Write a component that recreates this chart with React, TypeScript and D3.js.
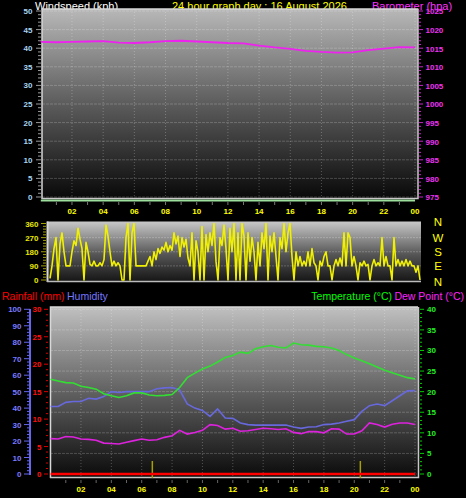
import * as d3 from 'd3'

// x labels shared by all three panels
const hourLabels = ['02', '04', '06', '08', '10', '12', '14', '16', '18', '20', '22', '00']

// top panel
const windSpeedTicks = [0, 5, 10, 15, 20, 25, 30, 35, 40, 45, 50]
const baroTicks = [975, 980, 985, 990, 995, 1000, 1005, 1010, 1015, 1020, 1025]
const baroHours = [0, 1, 2, 3, 4, 5, 6, 7, 8, 9, 10, 11, 12, 13, 14, 15, 16, 17, 18, 19, 20, 21, 22, 23, 24]
const baroValues = [
  1016.7, 1016.6, 1016.7, 1016.8, 1016.9, 1016.5, 1016.4, 1016.6, 1016.9, 1017.0, 1016.8, 1016.6, 1016.4,
  1016.3, 1015.7, 1015.2, 1014.8, 1014.3, 1014.0, 1013.8, 1013.9, 1014.5, 1014.9, 1015.3, 1015.2,
]
const windHours = [0, 24]
const windSpeedValues = [0, 0]

// wind direction panel
const dirTicks = [0, 90, 180, 270, 360]
const compassLabels = ['N', 'W', 'S', 'E', 'N']
const windDirValues = [
  10, 90, 200, 270, 0, 230, 300, 180, 90, 90,
  90, 180, 250, 220, 330, 260, 200, 0, 240, 180,
  100, 90, 120, 90, 90, 110, 90, 130, 350, 280,
  180, 90, 120, 90, 110, 90, 0, 0, 270, 360,
  0, 300, 360, 90, 90, 90, 90, 90, 90, 120,
  150, 90, 180, 130, 200, 170, 210, 190, 240, 180,
  220, 190, 300, 230, 280, 150, 270, 210, 260, 140,
  90, 300, 0, 250, 180, 0, 340, 0, 290, 180,
  300, 220, 360, 120, 0, 270, 220, 350, 200, 0,
  330, 180, 360, 0, 300, 0, 360, 280, 0, 300,
  120, 270, 180, 0, 240, 90, 300, 200, 360, 0,
  280, 180, 300, 150, 0, 270, 200, 360, 180, 300,
  360, 150, 0, 180, 90, 150, 90, 120, 90, 180,
  90, 200, 110, 90, 0, 120, 90, 150, 180, 90,
  90, 0, 90, 130, 90, 140, 90, 300, 90, 300,
  270, 90, 150, 90, 0, 110, 90, 120, 90, 100,
  0, 90, 130, 90, 110, 90, 270, 90, 150, 90,
  90, 0, 270, 90, 130, 90, 120, 90, 130, 90,
  120, 90, 90, 50, 90, 0,
]

// bottom panel (half-hourly readings)
const humTicks = [0, 10, 20, 30, 40, 50, 60, 70, 80, 90, 100]
const rainTicks = [0, 5, 10, 15, 20, 25, 30]
const tempTicks = [0, 5, 10, 15, 20, 25, 30, 35, 40]
const tempValues = [
  23.0, 22.6, 22.2, 22.1, 21.3, 21.0, 20.6, 19.5, 19.0, 18.6, 19.0, 19.7, 19.7, 19.2, 19.0, 19.1, 19.3,
  21.0, 23.4, 24.5, 25.5, 26.2, 27.2, 28.3, 28.8, 29.6, 29.3, 30.4, 30.9, 31.2, 30.8, 30.6, 31.8,
  31.4, 31.3, 31.0, 30.9, 30.6, 30.0, 29.0, 28.2, 27.5, 26.8, 26.0, 25.2, 24.6, 24.0, 23.4, 23.1,
]
const humidityValues = [
  41, 41, 43.5, 44, 44, 46, 45.5, 47, 50, 49.5, 50, 50, 50, 50, 51.8, 52.3, 52.5,
  51, 42.5, 40, 38.6, 35, 39.5, 34, 33.8, 31, 30, 29.7, 29.7, 29.7, 29.7, 29.7, 28.5,
  27.7, 28.5, 28.7, 30, 30.3, 31, 32, 33, 38, 41.5, 42.5, 41.5, 44.5, 47.5, 50.5, 50.6,
]
const dewPointValues = [
  8.6, 8.5, 9.1, 9.0, 8.5, 8.4, 8.2, 7.5, 7.4, 7.3, 7.7, 8.1, 8.5, 8.2, 8.3, 8.9, 9.3,
  10.6, 9.7, 10.1, 10.6, 12.0, 11.8, 10.9, 11.1, 10.4, 10.5, 10.8, 11.1, 11.0, 10.8, 11.0, 10.1,
  9.8, 10.3, 10.3, 10.0, 11.0, 10.9, 9.7, 9.7, 10.5, 12.4, 12.0, 11.4, 12.1, 12.4, 12.4, 12.0,
]
const rainHours = [0, 24]
const rainValues = [0, 0]
const rainMarkHours = [6.7, 20.4]

const FONT = '"Liberation Sans", Arial, sans-serif'
const NUM = 8
const halfHours = tempValues.map((_, i) => i / 2)
const dirHours = windDirValues.map((_, i) => (i * 24) / (windDirValues.length - 1))
const hourLabelValues = hourLabels.map((_, i) => (i + 1) * 2)
const everyHour = d3.range(1, 24)

type Pt = [number, number]

const App = () => {
  // ---------- top ----------
  const xTop = d3.scaleLinear().domain([0, 24]).range([40.8, 415])
  const yWind = d3.scaleLinear().domain([0, 50]).range([197, 11])
  const yBaro = d3.scaleLinear().domain([975, 1025]).range([197, 11])
  const baroLine = d3.line<Pt>().x(d => xTop(d[0])).y(d => yBaro(d[1]))
  const windLine = d3.line<Pt>().x(d => xTop(d[0])).y(d => yWind(d[1]) + 3.5)

  // ---------- wind dir ----------
  const xDir = d3.scaleLinear().domain([0, 24]).range([50, 420])
  const yDir = d3.scaleLinear().domain([0, 360]).range([280, 223.5])
  const dirLine = d3.line<Pt>().x(d => xDir(d[0])).y(d => yDir(d[1]))

  // ---------- bottom ----------
  const xBot = d3.scaleLinear().domain([0, 24]).range([50.6, 415])
  const yHum = d3.scaleLinear().domain([0, 100]).range([474, 309.3])
  const yRain = d3.scaleLinear().domain([0, 30]).range([474, 309.3])
  const yTemp = d3.scaleLinear().domain([0, 40]).range([474, 309.3])
  const tempLine = d3.line<Pt>().x(d => xBot(d[0])).y(d => yTemp(d[1]))
  const humLine = d3.line<Pt>().x(d => xBot(d[0])).y(d => yHum(d[1]))
  const rainLine = d3.line<Pt>().x(d => xBot(d[0])).y(d => yRain(d[1]))

  const zip = (xs: number[], ys: number[]): Pt[] => xs.map((x, i) => [x, ys[i]])

  return (
    <svg width={466} height={498} style={{ position: 'absolute', left: 0, top: 0, background: '#000' }}
      fontFamily={FONT}>
      <defs>
        <linearGradient id="gTop" x1="0" y1="0" x2="0" y2="1">
          <stop offset="0" stopColor="#b8b8b8" />
          <stop offset="0.5" stopColor="#5c5c5c" />
          <stop offset="1" stopColor="#080808" />
        </linearGradient>
        <linearGradient id="gDir" x1="0" y1="0" x2="0" y2="1">
          <stop offset="0" stopColor="#c8c8c8" />
          <stop offset="0.55" stopColor="#555" />
          <stop offset="1" stopColor="#141414" />
        </linearGradient>
        <linearGradient id="gBot" x1="0" y1="0" x2="0" y2="1">
          <stop offset="0" stopColor="#c0c0c0" />
          <stop offset="0.5" stopColor="#606060" />
          <stop offset="1" stopColor="#0a0a0a" />
        </linearGradient>
      </defs>

      {/* ===== top panel ===== */}
      <text x={35} y={10} fontSize={11} fill="#fff">Windspeed (kph)</text>
      <text x={172} y={10} fontSize={11} fill="#ffff00">24 hour graph day : 16 August 2026</text>
      <text x={372} y={10} fontSize={11} fill="#ff33ff">Barometer (hpa)</text>

      <rect x={42} y={9} width={376} height={190} fill="url(#gTop)" />
      {windSpeedTicks.map(t => (
        <line key={t} x1={42} x2={418} y1={yWind(t)} y2={yWind(t)} stroke="#fff" strokeOpacity={0.2} strokeDasharray="3,1" />
      ))}
      {hourLabelValues.map(h => (
        <line key={h} x1={xTop(h)} x2={xTop(h)} y1={9} y2={199} stroke="#fff" strokeOpacity={0.25} strokeDasharray="1,2" />
      ))}
      <path d="M42,199 V9 H418" fill="none" stroke="#d8d8d8" strokeWidth={1.5} />
      <path d="M42,198.5 H418 V9" fill="none" stroke="#c8c8c8" strokeWidth={1.5} />
      <path d={baroLine(zip(baroHours, baroValues)) ?? ''} fill="none" stroke="#ee22ee" strokeWidth={1.8} />
      <path d={windLine(zip(windHours, windSpeedValues)) ?? ''} fill="none" stroke="#9de09d" strokeWidth={2} />

      {d3.range(0, 51).map(t => (
        <line key={t} x1={t % 5 === 0 ? 36 : 38} x2={41} y1={yWind(t)} y2={yWind(t)} stroke="#9a9a9a" />
      ))}
      {windSpeedTicks.map(t => (
        <text key={t} x={32.5} y={yWind(t) + 3} fontSize={NUM} fontWeight="bold" fill="#a8d4f4" textAnchor="end">{t}</text>
      ))}
      {d3.range(975, 1026).map(t => (
        <line key={t} x1={419} x2={t % 5 === 0 ? 423 : 421} y1={yBaro(t)} y2={yBaro(t)} stroke="#cc22cc" />
      ))}
      {baroTicks.map(t => (
        <text key={t} x={425.5} y={yBaro(t) + 3.3} fontSize={NUM} fontWeight="bold" fill="#ee33ee">{t}</text>
      ))}
      {everyHour.map(h => (
        <line key={h} x1={xTop(h)} x2={xTop(h)} y1={202} y2={205} stroke="#777" />
      ))}
      {hourLabelValues.map((h, i) => (
        <text key={h} x={xTop(h)} y={214} fontSize={NUM} fontWeight="bold" fill="#ffff00" textAnchor="middle">{hourLabels[i]}</text>
      ))}

      {/* ===== wind direction panel ===== */}
      <rect x={47} y={221.5} width={374} height={60.5} fill="url(#gDir)" />
      {dirTicks.slice(1, 4).map(t => (
        <line key={t} x1={47} x2={421} y1={yDir(t)} y2={yDir(t)} stroke="#fff" strokeOpacity={0.22} strokeDasharray="2,1" />
      ))}
      <path d="M47.5,282 V221.5" stroke="#d8d8d8" strokeWidth={2} />
      <path d="M47,281.5 H421" stroke="#bbb" strokeWidth={1.5} />
      <path d={dirLine(zip(dirHours, windDirValues)) ?? ''} fill="none" stroke="#f0f000" strokeWidth={1.6} strokeLinejoin="round" />
      {d3.range(0, 361, 18).map(t => (
        <line key={t} x1={t % 90 === 0 ? 41 : 43} x2={46} y1={yDir(t)} y2={yDir(t)} stroke="#a0a000" />
      ))}
      {dirTicks.map(t => (
        <text key={t} x={38.5} y={yDir(t) + 3} fontSize={NUM} fontWeight="bold" fill="#e8e800" textAnchor="end">{t}</text>
      ))}
      {compassLabels.map((c, i) => (
        <text key={i} x={438} y={yDir(360 - i * 90) + 4 + (i === 0 ? -2 : i === 4 ? 2 : 0)} fontSize={11.5} fill="#ffff00" textAnchor="middle">{c}</text>
      ))}

      {/* ===== bottom panel ===== */}
      <text x={2} y={300} fontSize={10.5} fill="#ff0000">Rainfall (mm)</text>
      <text x={67} y={300} fontSize={10.5} fill="#7777ff">Humidity</text>
      <text x={392} y={300} fontSize={10.5} fill="#00ff00" textAnchor="end">Temperature (°C)</text>
      <text x={464} y={300} fontSize={10.5} fill="#ff22ff" textAnchor="end">Dew Point (°C)</text>

      <rect x={50} y={307} width={368} height={171} fill="url(#gBot)" />
      {tempTicks.map(t => (
        <line key={t} x1={50} x2={418} y1={yTemp(t)} y2={yTemp(t)} stroke="#fff" strokeOpacity={0.2} strokeDasharray="3,1" />
      ))}
      {hourLabelValues.map(h => (
        <line key={h} x1={xBot(h)} x2={xBot(h)} y1={307} y2={478} stroke="#fff" strokeOpacity={0.25} strokeDasharray="1,2" />
      ))}
      <path d="M50.5,478 V307 H418" fill="none" stroke="#d8d8d8" strokeWidth={1.5} />
      <path d="M50,477.5 H418.5 V307" fill="none" stroke="#c8c8c8" strokeWidth={1.5} />

      {rainMarkHours.map(h => (
        <line key={h} x1={xBot(h)} x2={xBot(h)} y1={461} y2={478} stroke="#a8a000" strokeWidth={1.5} />
      ))}
      <path d={rainLine(zip(rainHours, rainValues)) ?? ''} fill="none" stroke="#ff0000" strokeWidth={2.5} />
      <path d={humLine(zip(halfHours, humidityValues)) ?? ''} fill="none" stroke="#6868dd" strokeWidth={1.6} />
      <path d={tempLine(zip(halfHours, dewPointValues)) ?? ''} fill="none" stroke="#dd22dd" strokeWidth={1.6} />
      <path d={tempLine(zip(halfHours, tempValues)) ?? ''} fill="none" stroke="#33dd33" strokeWidth={1.6} />

      {/* humidity axis */}
      <line x1={30} x2={30} y1={309} y2={475} stroke="#6666ee" strokeWidth={2} />
      {d3.range(0, 101, 2).map(t => (
        <line key={t} x1={t % 10 === 0 ? 24 : 27} x2={30} y1={yHum(t)} y2={yHum(t)} stroke="#6666ee" />
      ))}
      {humTicks.map(t => (
        <text key={t} x={21.5} y={yHum(t) + 3} fontSize={NUM} fontWeight="bold" fill="#7b7bff" textAnchor="end">{t}</text>
      ))}
      {/* rain axis */}
      {d3.range(0, 31).map(t => (
        <line key={t} x1={t % 5 === 0 ? 44 : 46} x2={48} y1={yRain(t)} y2={yRain(t)} stroke="#dd0000" />
      ))}
      {rainTicks.map(t => (
        <text key={t} x={41.5} y={yRain(t) + 3} fontSize={NUM} fontWeight="bold" fill="#ff1010" textAnchor="end">{t}</text>
      ))}
      {/* temperature axis */}
      {d3.range(0, 41).map(t => (
        <line key={t} x1={420} x2={t % 5 === 0 ? 424 : 422} y1={yTemp(t)} y2={yTemp(t)} stroke="#00cc00" />
      ))}
      {tempTicks.map(t => (
        <text key={t} x={427} y={yTemp(t) + 3} fontSize={NUM} fontWeight="bold" fill="#22ee22">{t}</text>
      ))}
      {everyHour.map(h => (
        <line key={h} x1={xBot(h)} x2={xBot(h)} y1={480} y2={483} stroke="#666" />
      ))}
      {hourLabelValues.map((h, i) => (
        <text key={h} x={xBot(h)} y={492} fontSize={NUM} fontWeight="bold" fill="#ffff00" textAnchor="middle">{hourLabels[i]}</text>
      ))}
    </svg>
  )
}

export default App
